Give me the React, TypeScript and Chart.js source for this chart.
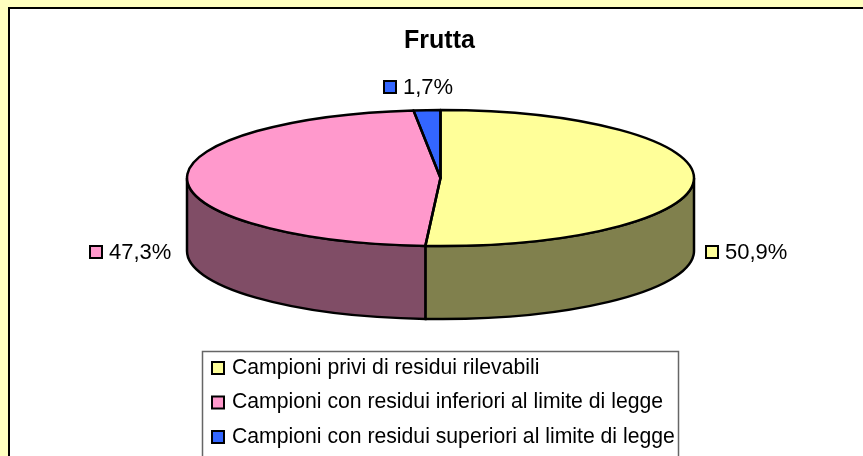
import React, { useEffect, useRef } from "react";
import { Chart, registerables } from "chart.js";

Chart.register(...registerables);

const title = "Frutta";
const categories = [
  "Campioni privi di residui rilevabili",
  "Campioni con residui inferiori al limite di legge",
  "Campioni con residui superiori al limite di legge",
];
const values = [50.9, 47.3, 1.7];
const valueLabels = ["50,9%", "47,3%", "1,7%"];
const topColors = ["#FFFF99", "#FF99CC", "#3366FF"];
const sideColors = ["#80804D", "#804D66", "#1A3380"];

const FONT = "'Liberation Sans', Arial, sans-serif";
const PIE = { cx: 440.5, cy: 178, rx: 253.5, ry: 68, depth: 73 };
const FRAME = { left: 9, top: 8, right: 890, bottom: 490 };
const LEGEND = { left: 202, top: 351, right: 678, bottom: 490, row: 34.5, first: 368 };
const LABEL_POS = [
  { x: 706, y: 252 },
  { x: 90, y: 252 },
  { x: 384, y: 87 },
];

function marker(ctx: CanvasRenderingContext2D, x: number, cy: number, color: string) {
  ctx.fillStyle = color;
  ctx.strokeStyle = "#000";
  ctx.lineWidth = 2;
  ctx.fillRect(x, cy - 6, 12, 12);
  ctx.strokeRect(x, cy - 6, 12, 12);
}

const pie3d = {
  id: "pie3d",
  beforeDraw(chart: any) {
    const { ctx, width, height } = chart;
    ctx.save();
    ctx.fillStyle = "#FFFFBF";
    ctx.fillRect(0, 0, width, height);
    ctx.fillStyle = "#fff";
    ctx.strokeStyle = "#000";
    ctx.lineWidth = 2;
    const f = FRAME;
    ctx.fillRect(f.left, f.top, f.right - f.left, f.bottom - f.top);
    ctx.strokeRect(f.left, f.top, f.right - f.left, f.bottom - f.top);
    ctx.restore();
  },
  beforeDatasetsDraw(chart: any) {
    const { ctx } = chart;
    const arcs = chart.getDatasetMeta(0).data;
    // side wall: the visible lower half of the ellipse, cut by the slices
    arcs.forEach((arc: any, i: number) => {
      const a0 = Math.max(arc.startAngle, 0);
      const a1 = Math.min(arc.endAngle, Math.PI);
      const wrap0 = Math.max(arc.startAngle - 2 * Math.PI, 0);
      const wrap1 = Math.min(arc.endAngle - 2 * Math.PI, Math.PI);
      const spans = [
        [a0, a1],
        [wrap0, wrap1],
      ];
      spans.forEach(([s, e]) => {
        if (e <= s) return;
        ctx.save();
        ctx.beginPath();
        ctx.ellipse(PIE.cx, PIE.cy, PIE.rx, PIE.ry, 0, s, e);
        ctx.ellipse(PIE.cx, PIE.cy + PIE.depth, PIE.rx, PIE.ry, 0, e, s, true);
        ctx.closePath();
        ctx.fillStyle = sideColors[i];
        ctx.fill();
        ctx.strokeStyle = "#000";
        ctx.lineWidth = 2.5;
        ctx.stroke();
        ctx.restore();
      });
    });
    // flatten the library's arcs into the tilted top of the pie
    const first = arcs[0];
    const R = first.outerRadius;
    ctx.save();
    ctx.translate(PIE.cx, PIE.cy);
    ctx.scale(PIE.rx / R, PIE.ry / R);
    ctx.translate(-first.x, -first.y);
  },
  afterDatasetsDraw(chart: any) {
    const { ctx } = chart;
    ctx.restore();
    const arcs = chart.getDatasetMeta(0).data;
    ctx.save();
    ctx.strokeStyle = "#000";
    ctx.lineWidth = 2.5;
    ctx.lineJoin = "round";
    arcs.forEach((arc: any) => {
      ctx.beginPath();
      ctx.moveTo(PIE.cx, PIE.cy);
      ctx.ellipse(PIE.cx, PIE.cy, PIE.rx, PIE.ry, 0, arc.startAngle, arc.endAngle);
      ctx.closePath();
      ctx.stroke();
    });
    ctx.restore();
  },
  afterDraw(chart: any) {
    const { ctx } = chart;
    ctx.save();
    ctx.textBaseline = "middle";
    ctx.textAlign = "left";
    ctx.font = `22px ${FONT}`;
    valueLabels.forEach((t, i) => {
      const p = LABEL_POS[i];
      marker(ctx, p.x, p.y, topColors[i]);
      ctx.fillStyle = "#000";
      ctx.fillText(t, p.x + 19, p.y + 1);
    });
    const l = LEGEND;
    ctx.fillStyle = "#fff";
    ctx.strokeStyle = "#666";
    ctx.lineWidth = 1.5;
    ctx.fillRect(l.left, l.top, l.right - l.left, l.bottom - l.top);
    ctx.strokeRect(l.left + 0.5, l.top + 0.5, l.right - l.left, l.bottom - l.top);
    ctx.font = `21.2px ${FONT}`;
    categories.forEach((t, i) => {
      const y = l.first + i * l.row;
      marker(ctx, l.left + 10, y, topColors[i]);
      ctx.fillStyle = "#000";
      ctx.fillText(t, l.left + 30, y);
    });
    ctx.restore();
  },
};

export default function App() {
  const ref = useRef<HTMLCanvasElement>(null);
  useEffect(() => {
    document.body.style.margin = "0";
    const chart = new Chart(ref.current!, {
      type: "pie",
      data: {
        labels: categories,
        datasets: [{ data: values, backgroundColor: topColors, borderWidth: 0 }],
      },
      options: {
        animation: false,
        responsive: false,
        rotation: 0,
        layout: { padding: { left: 16, top: 26, right: 0, bottom: 0 } },
        plugins: {
          legend: { display: false },
          tooltip: { enabled: false },
          title: {
            display: true,
            text: title,
            color: "#000",
            font: { family: FONT, size: 25, weight: "bold" },
            padding: { top: 0, bottom: 0 },
          },
        },
      },
      plugins: [pie3d],
    } as any);
    return () => chart.destroy();
  }, []);
  return <canvas ref={ref} width={863} height={456} style={{ display: "block" }} />;
}
